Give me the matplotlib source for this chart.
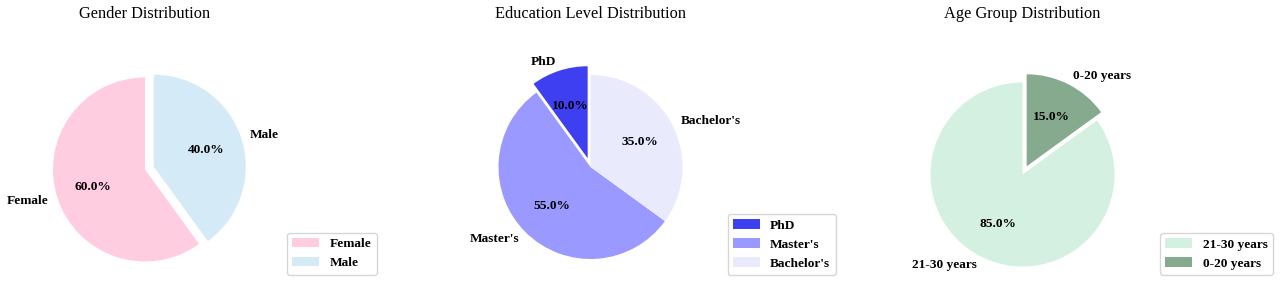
import matplotlib
matplotlib.use('Agg')
import matplotlib.pyplot as plt

# ---- data ----
gender_labels = ['Female', 'Male']
gender_values = [60, 40]
gender_colors = ['#FFCCE0', '#D4EAF7']
gender_explode = [0, 0.1]

edu_labels = ['PhD', "Master's", "Bachelor's"]
edu_values = [10, 55, 35]
edu_colors = ['#3F3FF2', '#9999FF', '#EAEAFD']
edu_explode = [0.1, 0, 0]

age_labels = ['21-30 years', '0-20 years']
age_values = [85, 15]
age_colors = ['#D4F0E0', '#85AA8E']
age_explode = [0, 0.1]

titles = ['Gender Distribution', 'Education Level Distribution', 'Age Group Distribution']

plt.rcParams['font.family'] = ['Liberation Serif', 'DejaVu Serif']

W, H = 1280, 288
fig = plt.figure(figsize=(W / 100, H / 100), dpi=100)

FS = 9.6


def make_pie(values, labels, colors, explode, title, cx, cy, r, half_w, leg_left, leg_bottom):
    left, right = cx - half_w, cx + half_w
    top, bottom = 26, 286
    ax = fig.add_axes([left / W, 1 - bottom / H, (right - left) / W, (bottom - top) / H])
    wedges, texts, autotexts = ax.pie(
        values, labels=labels, colors=colors, explode=explode,
        autopct='%1.1f%%', startangle=90, labeldistance=1.1, pctdistance=0.6,
        textprops={'fontsize': FS, 'fontweight': 'bold', 'color': 'black'})
    ax.set_aspect('auto')
    ax.set_xlim((left - cx) / r, (right - cx) / r)
    ax.set_ylim((cy - bottom) / r, (cy - top) / r)
    ax.set_title(title, fontsize=11.8, pad=6)
    ax.legend(wedges, labels, loc='lower left',
              bbox_to_anchor=(leg_left / W, 1 - leg_bottom / H),
              bbox_transform=fig.transFigure, borderaxespad=0,
              prop={'weight': 'bold', 'size': FS})
    return ax


make_pie(gender_values, gender_labels, gender_colors, gender_explode, titles[0],
         145, 169.5, 92, 120, 287, 274.5)
make_pie(edu_values, edu_labels, edu_colors, edu_explode, titles[1],
         590.5, 167, 92, 120, 727.5, 275)
make_pie(age_values, age_labels, age_colors, age_explode, titles[2],
         1022.5, 174.5, 92, 120, 1160, 275)

fig.savefig('out.png', dpi=100)
